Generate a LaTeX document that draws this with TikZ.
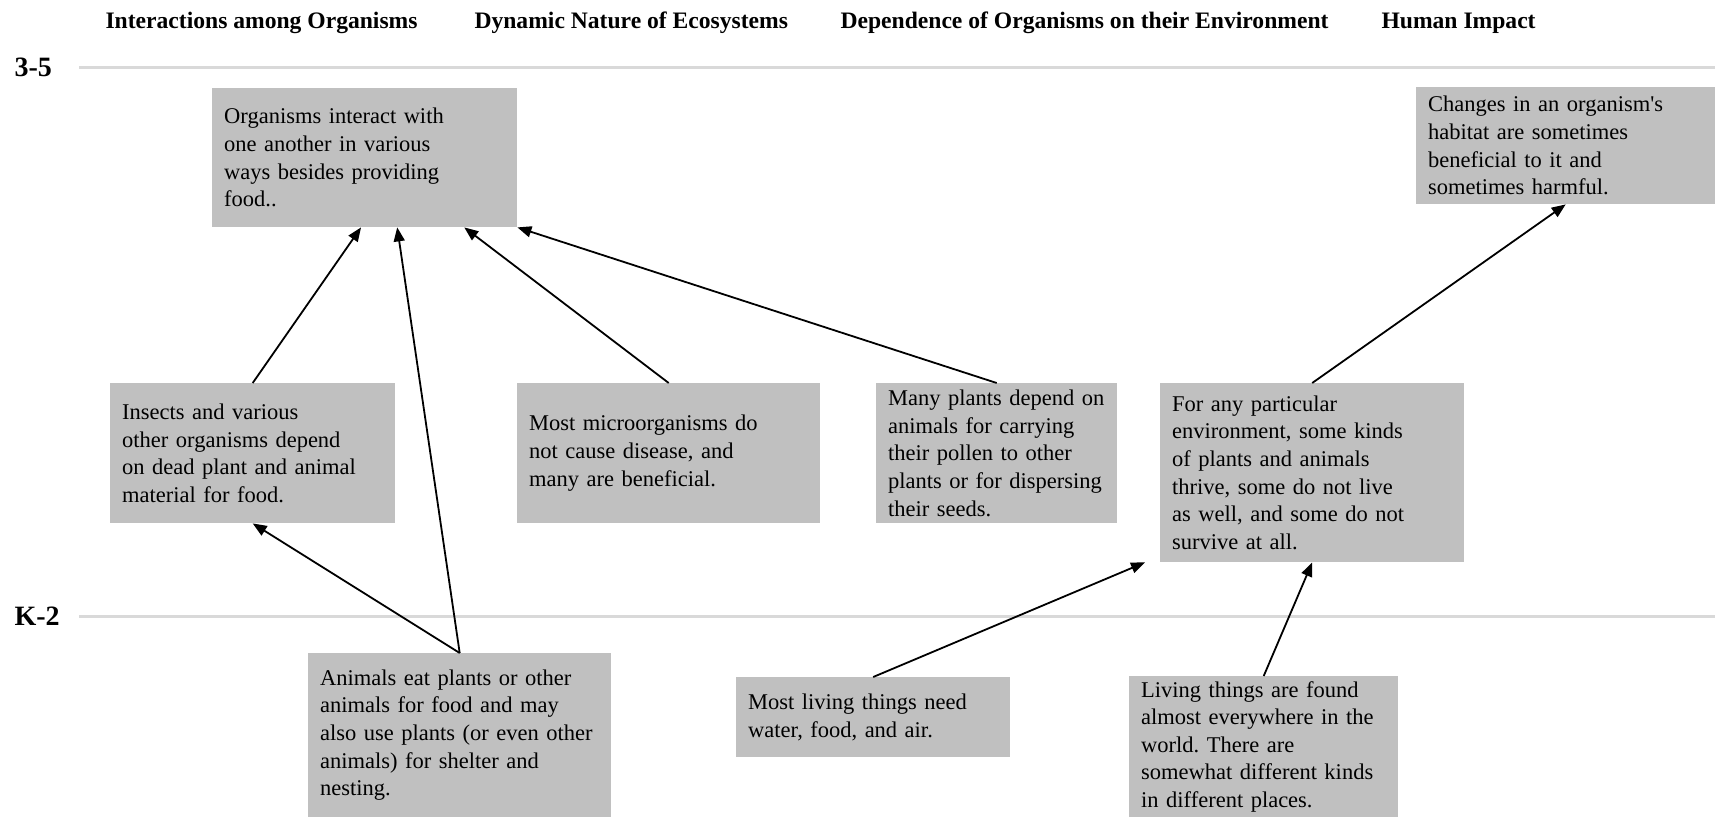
\documentclass[tikz,border=0pt]{standalone}
\usepackage{fontspec}
\setmainfont{Liberation Serif}
\usetikzlibrary{arrows.meta}
\definecolor{boxgray}{RGB}{192,192,192}
\definecolor{rulegray}{RGB}{217,217,217}
\frenchspacing
\tikzset{
  idea/.style      = {fill=boxgray,anchor=north west,align=left,inner xsep=12pt,inner ysep=0pt,
                      font=\fontsize{22.5}{27.6}\selectfont},
  strand/.style    = {anchor=base west,font=\fontsize{23.6}{28}\selectfont\bfseries},
  gradelbl/.style  = {anchor=base west,font=\fontsize{28}{32}\selectfont\bfseries},
  gradeline/.style = {rulegray,line width=3pt},
  link/.style      = {-{Triangle[length=14pt,width=11pt]},line width=1.8pt}
}
\newcommand{\grade}[3]{%
  \draw[gradeline] (79,#1) -- (1715,#1);
  \node[gradelbl] (#2) at (11,#1+9) {#3};
}

\begin{document}
\begin{tikzpicture}[x=1pt,y=-1pt]
  \useasboundingbox (0,0) rectangle (1717,817);
  \node[strand] (inter) at (102,28)  {Interactions among Organisms};
  \node[strand] (dyn)   at (471,28)  {Dynamic Nature of Ecosystems};
  \node[strand] (dep)   at (837,28)  {Dependence of Organisms on their Environment};
  \node[strand] (human) at (1378,28) {Human Impact};
  \grade{67}{upper}{3-5}
  \grade{616}{lower}{K-2}

  \node[idea,text width=281pt,minimum height=139pt] (interact) at (212,88)
    {Organisms interact with\\one another in various\\ways besides providing\\food..};
  \node[idea,text width=275pt,minimum height=117pt] (habitat) at (1416,87)
    {Changes in an organism\textquotesingle s\\habitat are sometimes\\beneficial to it and\\sometimes harmful.};
  \node[idea,text width=261pt,minimum height=140pt] (decomp) at (110,383)
    {Insects and various\\other organisms depend\\on dead plant and animal\\material for food.};
  \node[idea,text width=279pt,minimum height=140pt] (microbe) at (517,383)
    {Most microorganisms do\\not cause disease, and\\many are beneficial.};
  \node[idea,text width=217pt,minimum height=140pt] (pollen) at (876,383)
    {Many plants depend on\\animals for carrying\\their pollen to other\\plants or for dispersing\\their seeds.};
  \node[idea,text width=280pt,minimum height=179pt] (thrive) at (1160,383)
    {For any particular\\environment, some kinds\\of plants and animals\\thrive, some do not live\\as well, and some do not\\survive at all.};
  \node[idea,text width=279pt,minimum height=164pt] (shelter) at (308,653)
    {Animals eat plants or other\\animals for food and may\\also use plants (or even other\\animals) for shelter and\\nesting.};
  \node[idea,text width=250pt,minimum height=80pt] (needs) at (736,677)
    {Most living things need\\water, food, and air.};
  \node[idea,text width=245pt,minimum height=141pt] (places) at (1129,676)
    {Living things are found\\almost everywhere in the\\world. There are\\somewhat different kinds\\in different places.};

  \draw[link] (decomp.north)  -- (interact.267);
  \draw[link] (shelter.north) -- (interact.295);
  \draw[link] (microbe.north) -- (interact.325);
  \draw[link] (pollen.north)  -- (interact.south east);
  \draw[link] (shelter.north) -- (decomp.south);
  \draw[link] (thrive.north)  -- (habitat.south);
  \draw[link] (needs.north)   -- ([xshift=-15pt]thrive.south west);
  \draw[link] (places.north)  -- (thrive.south);
\end{tikzpicture}
\end{document}
